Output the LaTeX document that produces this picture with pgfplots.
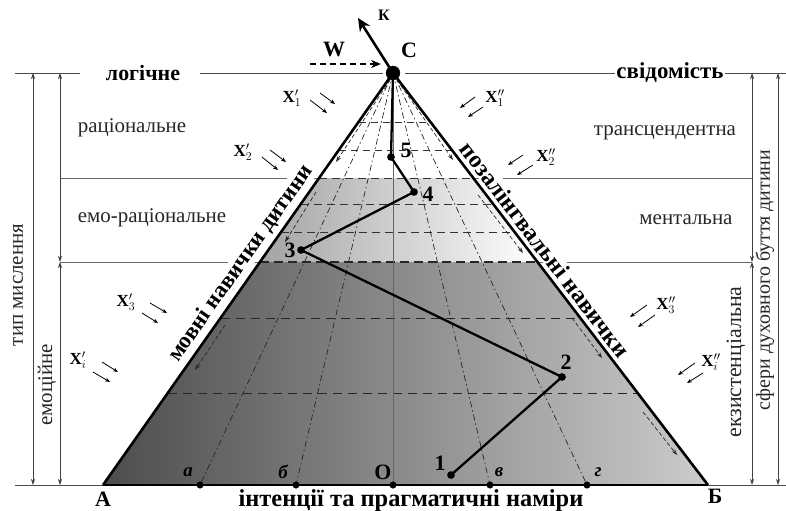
\documentclass[border=0pt]{standalone}
\usepackage{pgfplots}
\pgfplotsset{compat=1.18}
\usepackage{fontspec}
\setmainfont{Liberation Serif}
\usetikzlibrary{arrows.meta}
\newcommand\fnn{\fontsize{21}{23}\selectfont}
\newcommand\fbb{\fontsize{22}{24}\selectfont\bfseries}
\newcommand\fss{\fontsize{17}{19}\selectfont\bfseries}
\begin{document}
\begin{tikzpicture}
\begin{axis}[scale only axis, width=786bp, height=511bp, xmin=0, xmax=786, ymin=0, ymax=511,
  y dir=reverse, hide axis, clip=false, anchor=south west, at={(0,0)}]
% shaded bands
\addplot[draw=none, left color=black!70, right color=black!20] coordinates {(260,262)(537.5,262)(708,485)(103,485)} --cycle;
\addplot[draw=none, left color=black!36, right color=white] coordinates {(319.1,178)(473.3,178)(537.5,262)(260,262)} --cycle;
% outer guide lines
\addplot[black!70, line width=0.8pt] coordinates {(15,73)(80,73)};
\addplot[black!70, line width=0.8pt] coordinates {(200,73)(383,73)};
\addplot[black!70, line width=0.8pt] coordinates {(405,73)(615,73)};
\addplot[black!70, line width=0.8pt] coordinates {(725,73)(786,73)};
\addplot[black!60, line width=0.8pt] coordinates {(60,178)(319.1,178)};
\addplot[black!60, line width=0.8pt] coordinates {(473.3,178)(752,178)};
\addplot[black!60, line width=1pt] coordinates {(60,262)(260,262)};
\addplot[black!60, line width=1pt] coordinates {(537.5,262)(752,262)};
\addplot[black!70, line width=0.8pt] coordinates {(15,485)(103,485)};
\addplot[black!70, line width=0.8pt] coordinates {(708,485)(786,485)};
% vertical dimension arrows
\addplot[black!75, line width=0.7pt, {Stealth[length=6bp,width=4bp]}-{Stealth[length=6bp,width=4bp]}] coordinates {(33,73)(33,485)};
\addplot[black!75, line width=0.7pt, {Stealth[length=6bp,width=4bp]}-{Stealth[length=6bp,width=4bp]}] coordinates {(60,73)(60,262)};
\addplot[black!75, line width=0.7pt, {Stealth[length=6bp,width=4bp]}-{Stealth[length=6bp,width=4bp]}] coordinates {(60,262)(60,485)};
\addplot[black!75, line width=0.7pt, {Stealth[length=6bp,width=4bp]}-{Stealth[length=6bp,width=4bp]}] coordinates {(752,73)(752,262)};
\addplot[black!75, line width=0.7pt, {Stealth[length=6bp,width=4bp]}-{Stealth[length=6bp,width=4bp]}] coordinates {(752,262)(752,485)};
\addplot[black!75, line width=0.7pt, {Stealth[length=6bp,width=4bp]}-{Stealth[length=6bp,width=4bp]}] coordinates {(778,73)(778,485)};
% dashed horizontal grid in triangle
\addplot[black!80, line width=0.8pt, dash pattern=on 7bp off 5bp] coordinates {(358.5,122)(430.5,122)};
\addplot[black!80, line width=0.8pt, dash pattern=on 7bp off 5bp] coordinates {(338.8,150)(451.9,150)};
\addplot[black!80, line width=1pt, dash pattern=on 8bp off 5bp] coordinates {(319.1,178)(473.3,178)};
\addplot[black!80, line width=0.8pt, dash pattern=on 8bp off 5bp] coordinates {(300.8,204)(493.2,204)};
\addplot[black!80, line width=0.8pt, dash pattern=on 8bp off 5bp] coordinates {(281.1,232)(514.6,232)};
\addplot[black!85, line width=1.2pt, dash pattern=on 9bp off 5bp] coordinates {(260,262)(537.5,262)};
\addplot[black!85, line width=0.9pt, dash pattern=on 9bp off 6bp] coordinates {(220.5,318)(580.3,318)};
\addplot[black!85, line width=0.9pt, dash pattern=on 9bp off 6bp] coordinates {(167.8,393)(637.7,393)};
% fan dash-dot lines
\addplot[black!85, line width=0.7pt, dash pattern=on 6bp off 3bp on 1.5bp off 3bp] coordinates {(393,73)(200,485)};
\addplot[black!85, line width=0.7pt, dash pattern=on 6bp off 3bp on 1.5bp off 3bp] coordinates {(393,73)(296,485)};
\addplot[black!85, line width=0.7pt, dash pattern=on 6bp off 3bp on 1.5bp off 3bp] coordinates {(393,73)(490,485)};
\addplot[black!85, line width=0.7pt, dash pattern=on 6bp off 3bp on 1.5bp off 3bp] coordinates {(393,73)(587,485)};
% dashed arrows along the sides
\addplot[black!85, line width=0.7pt, dash pattern=on 4bp off 2.5bp, -{Stealth[length=6bp,width=4bp]}] coordinates {(390,80)(336,162)};
\addplot[black!85, line width=0.7pt, dash pattern=on 4bp off 2.5bp, -{Stealth[length=6bp,width=4bp]}] coordinates {(316,192)(285,242)};
\addplot[black!85, line width=0.7pt, dash pattern=on 4bp off 2.5bp, -{Stealth[length=6bp,width=4bp]}] coordinates {(225,325)(195,370)};
\addplot[black!85, line width=0.7pt, dash pattern=on 4bp off 2.5bp, -{Stealth[length=6bp,width=4bp]}] coordinates {(397,80)(453,160)};
\addplot[black!85, line width=0.7pt, dash pattern=on 4bp off 2.5bp, -{Stealth[length=6bp,width=4bp]}] coordinates {(478,195)(523,253)};
\addplot[black!85, line width=0.7pt, dash pattern=on 4bp off 2.5bp, -{Stealth[length=6bp,width=4bp]}] coordinates {(572,318)(602,358)};
\addplot[black!85, line width=0.7pt, dash pattern=on 4bp off 2.5bp, -{Stealth[length=6bp,width=4bp]}] coordinates {(643,412)(677,455)};
% vertical axis C-O
\addplot[black!60, line width=0.9pt] coordinates {(393,73)(393,485)};
% triangle sides
\addplot[black, line width=2.6pt] coordinates {(103,485)(393,73)(708,485)};
\addplot[black, line width=2.6pt] coordinates {(103,485)(708,485)};
% trajectory
\addplot[black, line width=2.3pt] coordinates {(393,73)(391,157)(414,192)(301,250)(562,377)(451,475)};
\addplot[only marks, mark=*, mark size=3.6pt, black] coordinates {(391,157)(414,192)(301,250)(562,377)(451,475)};
\addplot[only marks, mark=*, mark size=3.3pt, black] coordinates {(200,485)(296,485)(393,485)(490,485)(587,485)};
\addplot[only marks, mark=*, mark size=7pt, black] coordinates {(393,73)};
% K and W arrows
\addplot[black, line width=2.6pt, -{Stealth[length=13bp,width=12bp]}] coordinates {(393,73)(358,18)};
\addplot[black, line width=1.6pt, dash pattern=on 6bp off 4bp, -{Stealth[length=10bp,width=8bp]}] coordinates {(310,64)(381,64)};
% small X arrows
\addplot[black, line width=0.8pt, -{Stealth[length=5bp,width=4bp]}] coordinates {(310,100)(327,113)};
\addplot[black, line width=0.8pt, -{Stealth[length=5bp,width=4bp]}] coordinates {(320,93)(335,104)};
\addplot[black, line width=0.8pt, -{Stealth[length=5bp,width=4bp]}] coordinates {(262,157)(278,170)};
\addplot[black, line width=0.8pt, -{Stealth[length=5bp,width=4bp]}] coordinates {(270,150)(286,162)};
\addplot[black, line width=0.8pt, -{Stealth[length=5bp,width=4bp]}] coordinates {(142,313)(158,323)};
\addplot[black, line width=0.8pt, -{Stealth[length=5bp,width=4bp]}] coordinates {(150,303)(167,313)};
\addplot[black, line width=0.8pt, -{Stealth[length=5bp,width=4bp]}] coordinates {(93,372)(110,382)};
\addplot[black, line width=0.8pt, -{Stealth[length=5bp,width=4bp]}] coordinates {(102,362)(118,372)};
\addplot[black, line width=0.8pt, -{Stealth[length=5bp,width=4bp]}] coordinates {(475,97)(460,108)};
\addplot[black, line width=0.8pt, -{Stealth[length=5bp,width=4bp]}] coordinates {(483,107)(468,117)};
\addplot[black, line width=0.8pt, -{Stealth[length=5bp,width=4bp]}] coordinates {(523,155)(508,165)};
\addplot[black, line width=0.8pt, -{Stealth[length=5bp,width=4bp]}] coordinates {(533,165)(517,175)};
\addplot[black, line width=0.8pt, -{Stealth[length=5bp,width=4bp]}] coordinates {(647,305)(630,317)};
\addplot[black, line width=0.8pt, -{Stealth[length=5bp,width=4bp]}] coordinates {(655,315)(638,327)};
\addplot[black, line width=0.8pt, -{Stealth[length=5bp,width=4bp]}] coordinates {(695,363)(678,375)};
\addplot[black, line width=0.8pt, -{Stealth[length=5bp,width=4bp]}] coordinates {(703,373)(687,383)};
% texts
\node[font=\fbb] at (143,73) {логічне};
\node[font=\fontsize{23}{25}\selectfont\bfseries] at (670,73) {свідомість};
\node[font=\fnn, text=black!85] at (132,128) {раціональне};
\node[font=\fnn, text=black!85] at (152,218) {емо-раціональне};
\node[font=\fnn, text=black!85] at (665,133) {трансцендентна};
\node[font=\fnn, text=black!85] at (686,220) {ментальна};
\node[font=\fnn, text=black!85, rotate=90] at (18,285) {тип мислення};
\node[font=\fnn, text=black!85, rotate=90] at (47,385) {емоційне};
\node[font=\fontsize{22}{24}\selectfont, text=black!85, rotate=90] at (736,362) {екзистенціальна};
\node[font=\fontsize{20}{22}\selectfont, text=black!85, rotate=90] at (765,280) {сфери духовного буття дитини};
\node[font=\fontsize{23}{25}\selectfont\bfseries, rotate=54.86, anchor=south, inner sep=1bp, outer sep=4bp, fill=white] at (253,272) {мовні навички дитини};
\node[font=\fontsize{24}{26}\selectfont\bfseries, rotate=-52.6, anchor=south, inner sep=1bp, outer sep=4.5bp, fill=white] at (534,258) {позалінгвальні навички};
\node[font=\fontsize{24.5}{26}\selectfont\bfseries] at (411,501) {інтенції та прагматичні наміри};
\node[font=\fbb, inner sep=0pt] at (103,499) {A};
\node[font=\fbb, inner sep=0pt] at (715,496) {Б};
\node[font=\fbb] at (409,50) {C};
\node[font=\fontsize{16}{18}\selectfont\bfseries] at (384,15) {К};
\node[font=\fbb] at (334,49) {W};
\node[font=\fbb] at (383,472) {O};
\node[font=\fontsize{19}{21}\selectfont\bfseries\itshape] at (188,472) {а};
\node[font=\fontsize{19}{21}\selectfont\bfseries\itshape] at (283,472) {б};
\node[font=\fontsize{19}{21}\selectfont\bfseries\itshape] at (499,472) {в};
\node[font=\fontsize{19}{21}\selectfont\bfseries\itshape] at (598,472) {г};
\node[font=\fbb] at (440,463) {1};
\node[font=\fbb] at (566,362) {2};
\node[font=\fbb] at (290,250) {3};
\node[font=\fbb] at (428,194) {4};
\node[font=\fbb] at (406,150) {5};
\node[font=\fss] at (292,98) {X$'_{1}$};
\node[font=\fss] at (243,152) {X$'_{2}$};
\node[font=\fss] at (126,302) {X$'_{3}$};
\node[font=\fss] at (78,360) {X$'_{i}$};
\node[font=\fss] at (495,98) {X$''_{1}$};
\node[font=\fss] at (546,157) {X$''_{2}$};
\node[font=\fss] at (666,305) {X$''_{3}$};
\node[font=\fss] at (711,362) {X$''_{i}$};
\end{axis}
\pgfresetboundingbox
\path (0,0) rectangle (786bp,511bp);
\end{tikzpicture}
\end{document}
